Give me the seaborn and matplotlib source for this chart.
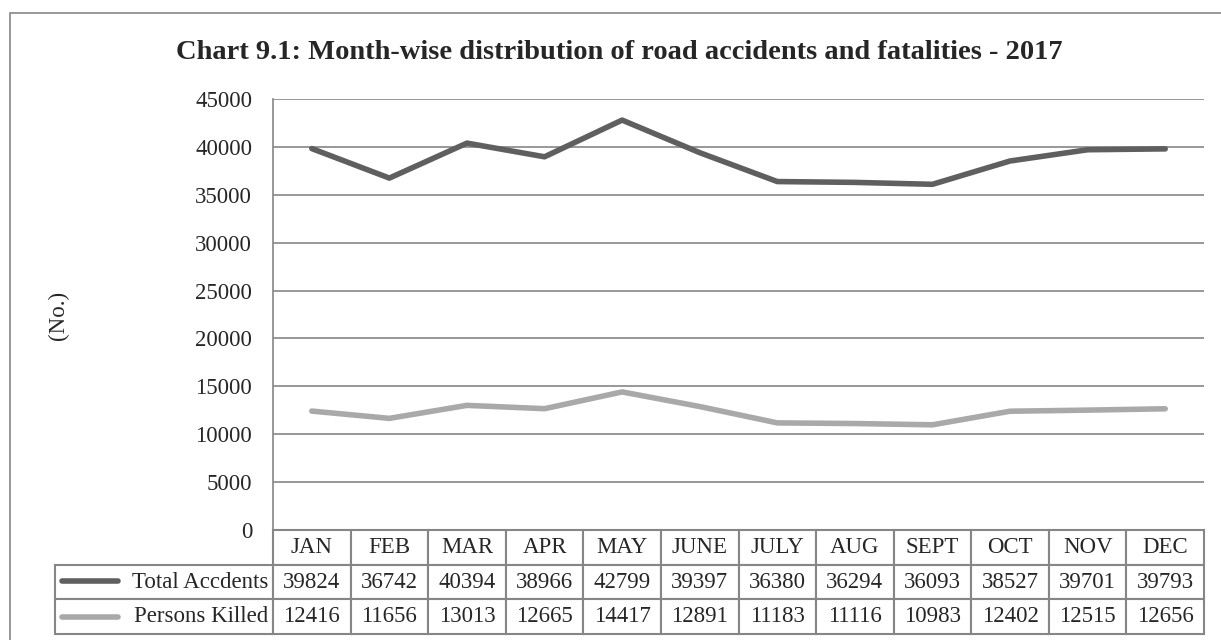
import pandas as pd
import matplotlib.pyplot as plt
import seaborn as sns
from matplotlib.lines import Line2D
from matplotlib.patches import Rectangle

months = ['JAN', 'FEB', 'MAR', 'APR', 'MAY', 'JUNE', 'JULY', 'AUG', 'SEPT', 'OCT', 'NOV', 'DEC']
total_accidents = [39824, 36742, 40394, 38966, 42799, 39397, 36380, 36294, 36093, 38527, 39701, 39793]
persons_killed = [12416, 11656, 13013, 12665, 14417, 12891, 11183, 11116, 10983, 12402, 12515, 12656]
series_names = ['Total Accdents', 'Persons Killed']
colors = ['#5f5f5f', '#a9a9a9']

df = pd.DataFrame({
    'month': months * 2,
    'value': total_accidents + persons_killed,
    'series': [series_names[0]] * 12 + [series_names[1]] * 12,
})

sns.set_style('white')
plt.rcParams['font.family'] = ['Liberation Serif', 'DejaVu Serif']

W, H = 1221, 640
fig = plt.figure(figsize=(W / 100, H / 100), dpi=100)
ax = fig.add_axes([273 / W, 1 - 530 / H, 931 / W, 431 / H])

sns.lineplot(data=df, x='month', y='value', hue='series', palette=colors,
             linewidth=4, legend=False, ax=ax, sort=False)

ax.set_ylim(0, 45000)
ax.set_yticks(range(0, 45001, 5000))
ax.set_xlim(-0.5, 11.5)
ax.set_xticks([])
ax.set_xlabel('')
ax.set_ylabel('')
ax.tick_params(axis='y', labelsize=16.5, pad=15, length=0)
ax.grid(axis='y', color='#868686', linewidth=1.2)
ax.set_axisbelow(True)
for side in ['top', 'right', 'bottom']:
    ax.spines[side].set_visible(False)
ax.spines['left'].set_color('#868686')
ax.spines['left'].set_linewidth(1.2)

# data table under the plot (bbox covers only the month columns)
cell_text = [[str(v) for v in total_accidents], [str(v) for v in persons_killed]]
tbl = ax.table(cellText=cell_text, colLabels=months,
               colWidths=[1 / 12] * 12, cellLoc='center',
               bbox=[0, -104 / 431, 1, 104 / 431])
row_h = tbl[1, 0].get_height()
for i, name in enumerate(series_names):
    tbl.add_cell(i + 1, -1, width=218 / 931, height=row_h, text=name, loc='right')
tbl.auto_set_font_size(False)
tbl.set_fontsize(16.5)
for (r, c), cell in tbl.get_celld().items():
    cell.set_edgecolor('#868686')
    cell.set_linewidth(1.5)
    if c == -1:
        cell.PAD = 0.02

# legend keys inside the row label cells
for i, col in enumerate(colors):
    y = 1 - (581 + 36 * i) / H
    fig.add_artist(Line2D([62 / W, 118 / W], [y, y], color=col,
                          linewidth=4, solid_capstyle='round'))

fig.text(619 / W, 1 - 59 / H,
         'Chart 9.1: Month-wise distribution of road accidents and fatalities - 2017',
         ha='center', va='baseline', fontsize=20.5, fontweight='bold')
fig.text(58 / W, 1 - 315 / H, '(No.)', rotation=90, ha='center', va='center', fontsize=16.5)

# outer chart border (only left and top edges fall inside the image)
fig.add_artist(Rectangle((10 / W, -0.1), 1.2, 1.1 - 13 / H,
                         fill=False, edgecolor='#868686', linewidth=1.2))

fig.savefig('out.png', dpi=100, facecolor='white')
